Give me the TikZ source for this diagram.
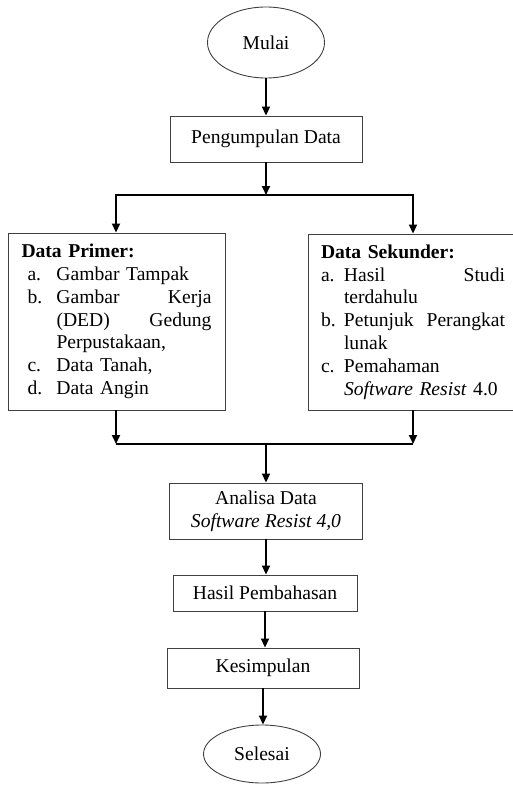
\documentclass[tikz,border=0pt]{standalone}
\usepackage{fontspec}
\setmainfont{Liberation Serif}
\usetikzlibrary{shapes.geometric,arrows.meta}
\newcommand\pli[2]{\makebox[35pt][l]{\hspace*{6pt}#1}#2}
\newcommand\sli[2]{\makebox[28pt][l]{\hspace*{5pt}#1}#2}
\begin{document}
\begin{tikzpicture}[x=1pt,y=-1pt,
  box/.style={draw=black!75, line width=0.9pt, rectangle, inner sep=0pt, align=center},
  term/.style={draw=black!75, line width=0.9pt, ellipse, inner sep=0pt},
  tip/.tip={Triangle[length=9pt,width=8pt]},
  arr/.style={line width=1.8pt, -tip},
  conn/.style={line width=1.8pt},
  font=\fontsize{19.6}{22.8}\selectfont]
\useasboundingbox (0,0) rectangle (513,792);

\node[term, minimum width=117pt, minimum height=71pt] (mulai) at (266,42.5) {Mulai};
\node[box, minimum width=192pt, minimum height=46pt] (peng) at (266,139) {Pengumpulan Data};

\node[box, minimum width=217pt, minimum height=177pt, text width=190pt, inner xsep=13.5pt, align=left] (prim) at (116.5,321.5)
{\textbf{Data Primer:}\\
\pli{a.}{Gambar Tampak}\\
\pli{b.}{\makebox[155pt][s]{Gambar\hfill Kerja}}\\
\pli{}{\makebox[155pt][s]{(DED)\hfill Gedung}}\\
\pli{}{Perpustakaan,}\\
\pli{c.}{Data Tanah,}\\
\pli{d.}{Data Angin}};

\node[box, minimum width=207pt, minimum height=176pt, text width=191pt, inner xsep=8pt, align=left] (sek) at (411.5,322)
{\hspace*{5pt}\textbf{Data Sekunder:}\\
\sli{a.}{\makebox[161pt][s]{Hasil\hfill Studi}}\\
\sli{}{terdahulu}\\
\sli{b.}{\makebox[161pt][s]{Petunjuk\hfill Perangkat}}\\
\sli{}{lunak}\\
\sli{c.}{Pemahaman}\\
\sli{}{\textit{Software Resist} 4.0}};

\node[box, minimum width=193pt, minimum height=56pt] (anal) at (266,511) {Analisa Data\\\textit{Software Resist 4,0}};
\node[box, minimum width=184pt, minimum height=36pt] (hasil) at (265,593) {Hasil Pembahasan};
\node[box, minimum width=192pt, minimum height=40pt] (kes) at (263,668) {Kesimpulan};
\node[term, minimum width=117pt, minimum height=58pt] (sel) at (262,754) {Selesai};

\coordinate (tl) at (116,195);
\coordinate (tr) at (413,195);
\coordinate (bl) at (116,444);
\coordinate (br) at (413,444);

\draw[arr] (mulai.south) -- (mulai.south |- peng.north);
\draw[arr] (peng.south) -- (peng.south |- tl);
\draw[conn, tip-tip] (prim.north -| tl) -- (tl) -- (tr) -- (sek.north -| tr);

\draw[arr] (prim.south -| bl) -- (bl);
\draw[arr] (sek.south -| br) -- (br);
\draw[conn] (bl) -- (br);
\draw[arr] (anal.north |- bl) -- (anal.north);

\draw[arr] (anal.south) -- (anal.south |- hasil.north);
\draw[arr] (hasil.south) -- (hasil.south |- kes.north);
\draw[arr] (kes.south) -- (kes.south |- sel.north);
\end{tikzpicture}
\end{document}
